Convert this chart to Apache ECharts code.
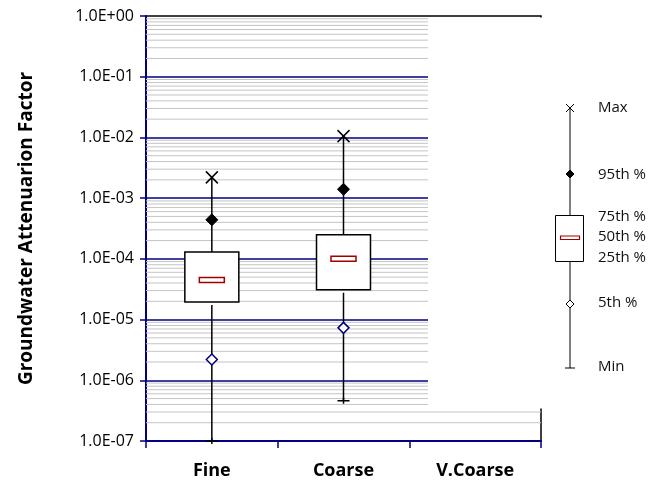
<!DOCTYPE html>
<html>
<head>
<meta charset="utf-8">
<style>html,body{margin:0;padding:0;background:#fff;}#chart{width:651px;height:487px;}</style>
<script src="https://cdn.jsdelivr.net/npm/echarts@6/dist/echarts.min.js"></script>
</head>
<body>
<div id="chart"></div>
<script>
// ---- data ----
const categories = ['Fine', 'Coarse', 'V.Coarse'];
const minVals    = [1.0e-7, 4.6e-7, null];
const p5Vals     = [2.2e-6, 7.3e-6, null];
const p25Vals    = [1.95e-5, 3.1e-5, null];
const medianVals = [4.5e-5, 1.0e-4, null];
const p75Vals    = [1.3e-4, 2.5e-4, null];
const p95Vals    = [4.4e-4, 1.4e-3, null];
const maxVals    = [2.2e-3, 1.05e-2, null];
const yTickLabels = ['1.0E-07', '1.0E-06', '1.0E-05', '1.0E-04', '1.0E-03', '1.0E-02', '1.0E-01', '1.0E+00'];
const decadeExponents = [-7, -6, -5, -4, -3, -2, -1];
const minorMultipliers = [2, 3, 4, 5, 6, 7, 8, 9];
const legendLabels = ['Max', '95th %', '75th %', '50th %', '25th %', '5th %', 'Min'];
const yAxisName = 'Groundwater Attenuarion Factor';

// ---- derived ----
const minorGridValues = [];
decadeExponents.forEach(e => minorMultipliers.forEach(m => minorGridValues.push(m * Math.pow(10, e))));
const boxData = categories.map((c, i) => maxVals[i] == null ? null :
  [i, minVals[i], p5Vals[i], p25Vals[i], medianVals[i], p75Vals[i], p95Vals[i], maxVals[i]]).filter(Boolean);

const NAVY = '#000080';
const FONT = 'Open Sans';

function boxRender(params, api) {
  const i = api.value(0);
  const pt = v => api.coord([i, v]);
  const cx = pt(api.value(4))[0];
  const bw = api.size([1, 1])[0] * 0.41;
  const yMin = pt(api.value(1))[1], y5 = pt(api.value(2))[1], y25 = pt(api.value(3))[1];
  const yMed = pt(api.value(4))[1], y75 = pt(api.value(5))[1], y95 = pt(api.value(6))[1], yMax = pt(api.value(7))[1];
  const stroke = {stroke: '#000', lineWidth: 1.5, fill: null};
  const s = 6;
  return {
    type: 'group',
    children: [
      {type: 'line', shape: {x1: cx, y1: yMax, x2: cx, y2: y75}, style: stroke},
      {type: 'line', shape: {x1: cx, y1: y25 + 3, x2: cx, y2: yMin}, style: stroke},
      {type: 'rect', shape: {x: cx - bw / 2, y: y75, width: bw, height: y25 - y75}, style: {fill: '#fff', stroke: '#000', lineWidth: 1.5}},
      {type: 'rect', shape: {x: cx - 12.5, y: yMed - 2.5, width: 25, height: 5}, style: {fill: '#fff', stroke: '#a00000', lineWidth: 1.5}},
      {type: 'polyline', shape: {points: [[cx - s, yMax - s], [cx + s, yMax + s]]}, style: stroke},
      {type: 'polyline', shape: {points: [[cx + s, yMax - s], [cx - s, yMax + s]]}, style: stroke},
      {type: 'polygon', shape: {points: [[cx, y95 - s], [cx + s, y95], [cx, y95 + s], [cx - s, y95]]}, style: {fill: '#000', stroke: '#000', lineWidth: 1}},
      {type: 'polygon', shape: {points: [[cx, y5 - 5.5], [cx + 5.5, y5], [cx, y5 + 5.5], [cx - 5.5, y5]]}, style: {fill: '#fff', stroke: NAVY, lineWidth: 1.5}},
      {type: 'line', shape: {x1: cx - s, y1: yMin, x2: cx + s, y2: yMin}, style: stroke},
      {type: 'line', shape: {x1: cx, y1: yMin - 3, x2: cx, y2: yMin + 3}, style: stroke}
    ]
  };
}

function minorRender(params, api) {
  const y = api.coord([0, api.value(1)])[1];
  const cs = params.coordSys;
  return {type: 'line', shape: {x1: cs.x, y1: y, x2: cs.x + cs.width, y2: y}, style: {stroke: '#c4c4c4', lineWidth: 1}};
}

// legend drawing (decoration)
const LX = 570;
const lg = [];
const lStroke = {stroke: '#000', lineWidth: 1, fill: null};
lg.push({type: 'line', shape: {x1: LX, y1: 108, x2: LX, y2: 368}, style: lStroke, z: 101});
lg.push({type: 'polyline', shape: {points: [[LX - 4, 104], [LX + 4, 112]]}, style: lStroke, z: 102});
lg.push({type: 'polyline', shape: {points: [[LX + 4, 104], [LX - 4, 112]]}, style: lStroke, z: 102});
lg.push({type: 'polygon', shape: {points: [[LX, 170], [LX + 4, 174], [LX, 178], [LX - 4, 174]]}, style: {fill: '#000', stroke: '#000', lineWidth: 1}, z: 102});
lg.push({type: 'rect', shape: {x: 555.5, y: 215.5, width: 28, height: 46}, style: {fill: '#fff', stroke: '#000', lineWidth: 1}, z: 102});
lg.push({type: 'rect', shape: {x: 560.5, y: 236, width: 19, height: 3.5}, style: {fill: '#fff', stroke: '#a00000', lineWidth: 1.2}, z: 103});
lg.push({type: 'polygon', shape: {points: [[LX, 300], [LX + 4, 304], [LX, 308], [LX - 4, 304]]}, style: {fill: '#fff', stroke: '#000', lineWidth: 1}, z: 102});
lg.push({type: 'line', shape: {x1: LX - 5, y1: 368, x2: LX + 5, y2: 368}, style: lStroke, z: 102});
const labelYs = [108, 175, 217, 237, 258, 303, 367];
legendLabels.forEach((t, k) => lg.push({
  type: 'text', x: 598, y: labelYs[k], z: 102,
  style: {text: t, fill: '#111', font: '15px "' + FONT + '"', textVerticalAlign: 'middle', textAlign: 'left'}
}));

const chart = echarts.init(document.getElementById('chart'), null, {renderer: 'canvas'});
chart.setOption({
  animation: false,
  backgroundColor: '#fff',
  grid: {left: 146, top: 16, width: 395, height: 425, show: true, borderColor: '#000', borderWidth: 1.5, backgroundColor: 'transparent'},
  xAxis: {
    type: 'category', data: categories, boundaryGap: true,
    axisLine: {lineStyle: {color: NAVY, width: 2}},
    axisTick: {show: true, length: 7, lineStyle: {color: NAVY, width: 1.5}},
    axisLabel: {color: '#000', fontFamily: FONT, fontWeight: 'bold', fontSize: 18, margin: 21},
    splitLine: {show: false}
  },
  yAxis: {
    type: 'log', logBase: 10, min: 1e-7, max: 1, splitNumber: 7,
    name: yAxisName, nameLocation: 'middle', nameGap: 110, nameRotate: 90,
    nameTextStyle: {color: '#000', fontFamily: FONT, fontWeight: 'bold', fontSize: 19},
    axisLine: {show: true, lineStyle: {color: NAVY, width: 2}},
    axisTick: {show: true, length: 6, lineStyle: {color: NAVY, width: 1.5}},
    axisLabel: {
      color: '#000', fontFamily: FONT, fontSize: 16, margin: 12,
      formatter: v => yTickLabels[Math.round(Math.log10(v)) + 7] || ''
    },
    splitLine: {show: true, showMaxLine: false, showMinLine: false, lineStyle: {color: NAVY, width: 1.5}},
    minorTick: {show: false}, minorSplitLine: {show: false}
  },
  series: [
    {type: 'custom', name: 'minor', silent: true, z: 1, renderItem: minorRender, data: minorGridValues.map(v => [0, v]), encode: {x: 0, y: 1}},
    {type: 'custom', name: 'box', z: 5, renderItem: boxRender, data: boxData, encode: {x: 0, y: [1, 2, 3, 4, 5, 6, 7]}}
  ],
  graphic: [
    {type: 'rect', shape: {x: 428, y: 17.5, width: 120, height: 391}, style: {fill: '#fff'}, z: 100, silent: true}
  ].concat(lg)
});
</script>
</body>
</html>
